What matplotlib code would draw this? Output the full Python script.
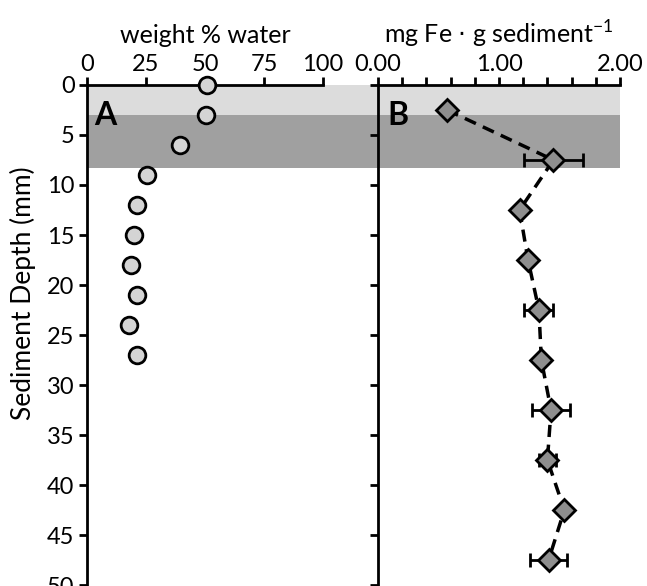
import matplotlib.pyplot as plt
from matplotlib.ticker import MultipleLocator

plt.rcParams['font.family'] = ['Lato', 'DejaVu Sans']

# panel A: weight % water
depth_a = [0, 3, 6, 9, 12, 15, 18, 21, 24, 27]
water = [51, 50.5, 39.5, 25.5, 21, 20, 18.5, 21, 18, 21]

# panel B: mg Fe per g sediment
depth_b = [2.5, 7.5, 12.5, 17.5, 22.5, 27.5, 32.5, 37.5, 42.5, 47.5]
fe = [0.57, 1.45, 1.17, 1.24, 1.33, 1.35, 1.43, 1.40, 1.54, 1.41]
fe_err = [0, 0.245, 0, 0, 0.12, 0, 0.16, 0.07, 0, 0.155]

# shaded layers (mm)
light_layer = (0, 3)
dark_layer = (3, 8.3)

W, H = 647, 586
fig = plt.figure(figsize=(W / 100, H / 100), dpi=100)
axA = fig.add_axes([87 / W, 1 - 585 / H, 236 / W, 500 / H])
axB = fig.add_axes([378 / W, 1 - 585 / H, 242 / W, 500 / H])

for ax in (axA, axB):
    ax.set_facecolor('none')
    ax.set_ylim(50, 0)
    ax.xaxis.tick_top()
    ax.xaxis.set_label_position('top')
    ax.spines['right'].set_visible(False)
    ax.spines['bottom'].set_visible(False)
    ax.spines['top'].set_linewidth(2)
    ax.spines['left'].set_linewidth(2)
    ax.yaxis.set_major_locator(MultipleLocator(5))
    ax.tick_params(axis='both', which='both', direction='out', width=2,
                   labelsize=17, pad=3)
    ax.tick_params(which='major', length=6)
    ax.tick_params(which='minor', length=6)
    ax.tick_params(axis='x', pad=1)

# shading spans both panels
span = (620 - 87) / 236
axA.axhspan(*light_layer, xmin=0, xmax=span, color='#dcdcdc', lw=0,
            clip_on=False, zorder=0)
axA.axhspan(*dark_layer, xmin=0, xmax=span, color='#a0a0a0', lw=0,
            clip_on=False, zorder=0)

# panel A
axA.set_xlim(0, 100)
axA.set_xticks([0, 25, 50, 75, 100])
axA.plot(water, depth_a, 'o', ms=12, mfc='#d4d4d4', mec='black', mew=2,
         clip_on=False, zorder=5)
axA.set_xlabel('weight % water', fontsize=18, labelpad=8)
axA.set_ylabel('Sediment Depth (mm)', fontsize=19)
axA.yaxis.set_label_coords(-0.215, 0.584)
axA.text(0.03, 0.968, 'A', transform=axA.transAxes, fontsize=23,
         fontweight='bold', va='top', ha='left')

# panel B
axB.set_xlim(0, 2)
axB.set_xticks([0, 1, 2])
axB.set_xticklabels(['0.00', '1.00', '2.00'])
axB.xaxis.set_minor_locator(MultipleLocator(0.2))
axB.set_yticklabels([])
axB.errorbar(fe, depth_b, xerr=fe_err, fmt='none', ecolor='black',
             elinewidth=2, capsize=5, capthick=2, zorder=3)
axB.plot(fe, depth_b, '--', color='black', lw=2.5, dashes=(3.5, 2.2), zorder=4)
axB.plot(fe, depth_b, 'D', ms=11, mfc='#8e8e8e', mec='black', mew=2, zorder=5)
axB.set_xlabel('mg Fe $\\cdot$ g sediment$^{\\mathregular{-1}}$', fontsize=18,
               labelpad=8)
axB.text(0.04, 0.968, 'B', transform=axB.transAxes, fontsize=23,
         fontweight='bold', va='top', ha='left')

fig.savefig('out.png', dpi=100)
